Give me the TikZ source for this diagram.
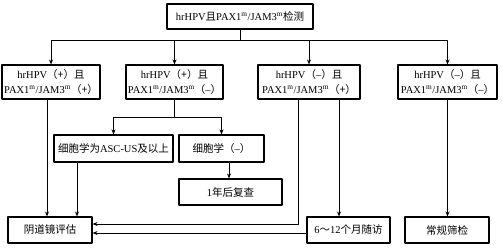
\documentclass[tikz,border=0pt]{standalone}
\usepackage{fontspec}
\setmainfont{Liberation Serif}
\newfontfamily\cjk{Noto Sans CJK SC}
\usetikzlibrary{arrows.meta}
\newcommand\paxjam{PAX1\textsuperscript{m}/JAM3\textsuperscript{m}}
\newcommand\negsign{{\cjk （}–{\cjk ）}}
\begin{document}
\begin{tikzpicture}[x=1pt, y=-1pt, font=\fontsize{10.5}{15}\selectfont, line join=round, >={Stealth[length=5pt,width=4pt]}, line width=0.9pt,
	box/.style={draw, line width=1.1pt, inner sep=0pt, align=center}]
	
	\useasboundingbox (0,0) rectangle (503,250);
	
	% first row
	\node[box, minimum width=146, minimum height=25] (test) at (240,16.5) {hrHPV{\cjk 且}\paxjam{\cjk 检测}};
	
	% second row
	\node[box, minimum width=98, minimum height=34] (pp) at (51,82) {hrHPV{\cjk （+）且}\\\paxjam{\cjk （+）}};
	\node[box, minimum width=97, minimum height=34] (pn) at (174.5,82) {hrHPV{\cjk （+）且}\\\paxjam\negsign};
	\node[box, minimum width=102, minimum height=34] (np) at (309,82) {hrHPV\negsign{\cjk 且}\\\paxjam{\cjk （+）}};
	\node[box, minimum width=99, minimum height=34] (nn) at (447.5,82) {hrHPV\negsign{\cjk 且}\\\paxjam\negsign};
	
	% cytology
	\node[box, minimum width=119, minimum height=27] (asc) at (113.5,148.5) {{\cjk 细胞学为}ASC-US{\cjk 及以上}};
	\node[box, minimum width=85, minimum height=27] (cyneg) at (221.5,148.5) {{\cjk 细胞学}\negsign};
	\node[box, minimum width=103, minimum height=26] (recheck) at (230.5,192) {1{\cjk 年后复查}};
	
	% last row
	\node[box, minimum width=84, minimum height=26] (colpo) at (50,230) {{\cjk 阴道镜评估}};
	\node[box, minimum width=83, minimum height=26] (follow) at (348.5,230) {6{\cjk ～}12{\cjk 个月随访}};
	\node[box, minimum width=84, minimum height=26] (routine) at (447,230) {{\cjk 常规筛检}};
	
	\coordinate (bus) at (240,40);
	\coordinate (c1) at ([xshift=-3]colpo.north);
	\coordinate (c2) at ([xshift=27]colpo.north);
	
	\draw (test) -- (bus);
	\draw[->] (bus) -| (pp);
	\draw[->] (bus) -| (pn);
	\draw[->] (bus) -| (np);
	\draw[->] (bus) -| (nn);
	
	\draw[->] (pp.south -| c1) -- (c1);
	\draw (pn.south) -- ++(0,18) coordinate (split);
	\draw[->] (split) -| (asc);
	\draw[->] (split) -| (cyneg);
	\draw[->] (asc.south -| c2) -- (c2);
	\draw[->] ([xshift=7.5]cyneg.south) -- ([xshift=7.5]cyneg.south |- recheck.north);
	
	\draw[->] ([xshift=-11]np.south) |- ([yshift=6]colpo.east);
	\draw[->] ([xshift=30]np.south) -- ([xshift=30]np.south |- follow.north);
	\draw[->] ([yshift=-3]follow.west) -- ([yshift=-3]follow.west -| colpo.east);
	\draw[->] (nn.south) -- (nn.south |- routine.north);
\end{tikzpicture}
\end{document}
